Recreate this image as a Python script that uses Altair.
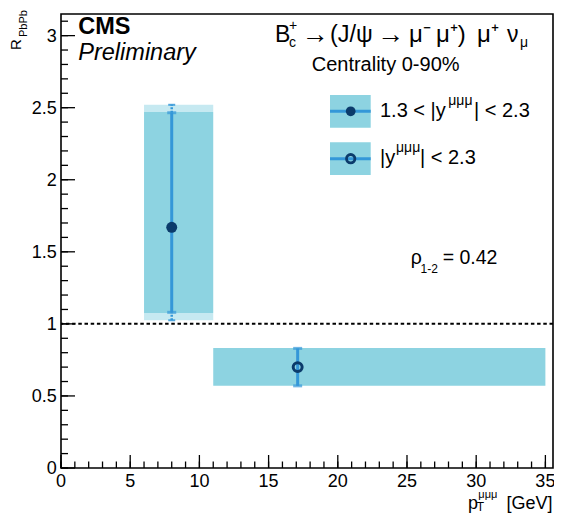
import altair as alt
import pandas as pd

# ---------------- data ----------------
series = ["1.3 < |y| < 2.3", "|y| < 2.3"]
bin_lo = [6.0, 11.0]
bin_hi = [11.0, 35.0]
pt_x = [8.0, 17.1]
r_val = [1.67, 0.70]
stat_lo = [1.08, 0.57]
stat_hi = [2.465, 0.83]
sys_lo = [1.075, 0.57]
sys_hi = [2.47, 0.833]
tot_lo = [1.025]        # total uncertainty (first bin only)
tot_hi = [2.52]
ref_line = [1.0]
rho_text = "= 0.42"

x_major = [0, 5, 10, 15, 20, 25, 30, 35]
x_labels = ["0", "5", "10", "15", "20", "25", "30", "35"]
x_minor = list(range(0, 36))
y_major = [0, 0.5, 1, 1.5, 2, 2.5, 3]
y_labels = ["0", "0.5", "1", "1.5", "2", "2.5", "3"]
y_minor = [round(0.1 * i, 1) for i in range(0, 32)]

# ---------------- style ----------------
W, H = 492, 454
FONT = "Liberation Sans"
BOX = "#8dd3e1"
HATCH = "#c6e9f1"
BAR = "#3497d8"
MARK = "#0b3b6b"

xs = alt.Scale(domain=[0, 35.55], nice=False, zero=False)
ys = alt.Scale(domain=[0, 3.15], nice=False, zero=False)

df = pd.DataFrame({
    "series": series, "lo": bin_lo, "hi": bin_hi, "x": pt_x, "r": r_val,
    "elo": stat_lo, "ehi": stat_hi, "slo": sys_lo, "shi": sys_hi,
})
df1 = df.iloc[[0]].copy()
df1["tlo"] = tot_lo
df1["thi"] = tot_hi
df2 = df.iloc[[1]].copy()


def X(f):
    return alt.X(f, scale=xs, axis=None)


def Y(f):
    return alt.Y(f, scale=ys, axis=None)


boxes = alt.Chart(df).mark_rect(color=BOX).encode(
    x=X("lo:Q"), x2="hi:Q", y=Y("slo:Q"), y2="shi:Q")
hatch_top = alt.Chart(df1).mark_rect(color=HATCH).encode(
    x=X("lo:Q"), x2="hi:Q", y=Y("shi:Q"), y2="thi:Q")
hatch_bot = alt.Chart(df1).mark_rect(color=HATCH).encode(
    x=X("lo:Q"), x2="hi:Q", y=Y("tlo:Q"), y2="slo:Q")
ref = alt.Chart(pd.DataFrame({"ref": ref_line})).mark_rule(
    color="black", strokeWidth=2, strokeDash=[3.5, 2.7]
).encode(y=Y("ref:Q"))

ebar = alt.Chart(df).mark_rule(color=BAR, strokeWidth=3).encode(
    x=X("x:Q"), y=Y("elo:Q"), y2="ehi:Q")
cap_lo = alt.Chart(df).mark_tick(color=BAR, orient="horizontal", size=9, thickness=3).encode(
    x=X("x:Q"), y=Y("elo:Q"))
cap_hi = alt.Chart(df).mark_tick(color=BAR, orient="horizontal", size=9, thickness=3).encode(
    x=X("x:Q"), y=Y("ehi:Q"))
tbar_hi = alt.Chart(df1).mark_rule(color=BAR, strokeWidth=2.5, strokeDash=[2, 1.5]).encode(
    x=X("x:Q"), y=Y("ehi:Q"), y2="thi:Q")
tbar_lo = alt.Chart(df1).mark_rule(color=BAR, strokeWidth=2.5, strokeDash=[2, 1.5]).encode(
    x=X("x:Q"), y=Y("tlo:Q"), y2="elo:Q")
tcap_hi = alt.Chart(df1).mark_tick(color=BAR, orient="horizontal", size=7, thickness=2, opacity=0.85).encode(
    x=X("x:Q"), y=Y("thi:Q"))
tcap_lo = alt.Chart(df1).mark_tick(color=BAR, orient="horizontal", size=7, thickness=2, opacity=0.85).encode(
    x=X("x:Q"), y=Y("tlo:Q"))

pt_full = alt.Chart(df1).mark_point(shape="circle", filled=True, color=MARK, size=120, opacity=1).encode(
    x=X("x:Q"), y=Y("r:Q"))
pt_open = alt.Chart(df2).mark_point(shape="circle", filled=False, color=MARK, size=80,
                                    strokeWidth=3, opacity=1).encode(x=X("x:Q"), y=Y("r:Q"))

# inside ticks (ROOT style) and tick labels
xt_df = pd.DataFrame({"v": x_major, "lab": x_labels})
yt_df = pd.DataFrame({"v": y_major, "lab": y_labels})
xt_major = alt.Chart(xt_df).mark_rule(color="black", strokeWidth=1.3).encode(
    x=X("v:Q"), y=alt.value(H), y2=alt.value(H - 13))
xt_minor = alt.Chart(pd.DataFrame({"v": x_minor})).mark_rule(color="black", strokeWidth=1.3).encode(
    x=X("v:Q"), y=alt.value(H), y2=alt.value(H - 6.5))
yt_major = alt.Chart(yt_df).mark_rule(color="black", strokeWidth=1.3).encode(
    y=Y("v:Q"), x=alt.value(0), x2=alt.value(14))
yt_minor = alt.Chart(pd.DataFrame({"v": y_minor})).mark_rule(color="black", strokeWidth=1.3).encode(
    y=Y("v:Q"), x=alt.value(0), x2=alt.value(7))
xt_lab = alt.Chart(xt_df).mark_text(font=FONT, fontSize=18, align="center", baseline="alphabetic",
                                    color="black").encode(
    x=X("v:Q"), y=alt.value(H + 18.5), text="lab:N")
yt_lab = alt.Chart(yt_df).mark_text(font=FONT, fontSize=18, align="right", baseline="alphabetic",
                                    dy=6.4, color="black").encode(
    y=Y("v:Q"), x=alt.value(-4.3), text="lab:N")

one = pd.DataFrame({"k": [0]})


def txt(s, x, y, size, align="left", **kw):
    return alt.Chart(one).mark_text(
        text=s, fontSize=size, font=FONT, align=align, baseline="alphabetic",
        color="black", **kw
    ).encode(x=alt.value(x), y=alt.value(y))


texts = [
    txt("CMS", 17.3, 20, 23.5, fontWeight="bold"),
    txt("Preliminary", 17.3, 46, 23.5, fontStyle="italic"),
    # decay formula
    txt("B", 214, 27.7, 23),
    txt("+", 228, 16, 14),
    txt("c", 228, 32.7, 14),
    txt("\u2192", 240.5, 29, 27),
    txt("(J/\u03c8", 269, 27.7, 23.5),
    txt("\u2192", 316, 29, 27),
    txt("\u03bc\u207b", 348, 27.7, 24),
    txt("\u03bc\u207a)", 375, 27.7, 24),
    txt("\u03bc\u207a", 416, 27.7, 24),
    txt("\u03bd", 446, 27.7, 23),
    txt("\u03bc", 459, 33, 14),
    txt("Centrality 0-90%", 250.7, 57, 20),
    # legend texts
    txt("1.3 < |y", 319, 103.3, 20),
    txt("\u03bc\u03bc\u03bc", 387.3, 91, 14),
    txt("| < 2.3", 413, 103.3, 20),
    txt("|y", 319, 150, 20),
    txt("\u03bc\u03bc\u03bc", 335, 137.7, 14),
    txt("| < 2.3", 359, 150, 20),
    # correlation
    txt("\u03c1", 349.7, 250.3, 19.5),
    txt("1-2", 359.5, 258.7, 12),
    txt(rho_text, 381.7, 250.3, 19.5),
    # x title
    txt("p", 407, 495, 18),
    txt("\u03bc\u03bc\u03bc", 417.3, 484, 11),
    txt("T", 415.7, 497, 12),
    txt("[GeV]", 491.5, 495, 18, align="right"),
    # y title
    txt("R", -40, 36, 15, angle=270),
    txt("PbPb", -34, 23, 11, angle=270),
]

# legend swatches
leg = []
for (y0, y1, yc, filled) in [(81, 113.7, 97.3, True), (128.3, 161, 144.7, False)]:
    leg.append(alt.Chart(one).mark_rect(color=BOX).encode(
        x=alt.value(269), x2=alt.value(309.7), y=alt.value(y0), y2=alt.value(y1)))
    leg.append(alt.Chart(one).mark_rule(color=BAR, strokeWidth=3).encode(
        x=alt.value(269), x2=alt.value(309.7), y=alt.value(yc)))
    if filled:
        leg.append(alt.Chart(one).mark_point(shape="circle", filled=True, color=MARK, size=95,
                                             opacity=1).encode(x=alt.value(289.7), y=alt.value(yc)))
    else:
        leg.append(alt.Chart(one).mark_point(shape="circle", filled=False, color=MARK, size=70,
                                             strokeWidth=2.8, opacity=1).encode(
            x=alt.value(289.7), y=alt.value(yc)))

chart = alt.layer(
    boxes, hatch_top, hatch_bot, ref, ebar, tbar_hi, tbar_lo, tcap_hi, tcap_lo,
    cap_lo, cap_hi, pt_full, pt_open, xt_major, xt_minor, yt_major, yt_minor,
    xt_lab, yt_lab, *leg, *texts
).properties(
    width=W, height=H,
    autosize=alt.AutoSizeParams(type="none"),
    padding={"left": 53, "top": 6, "right": 1, "bottom": 45},
).configure_view(
    stroke="black", strokeWidth=1.6
)

chart.save("out.html", embed_options={"renderer": "svg", "actions": False})
